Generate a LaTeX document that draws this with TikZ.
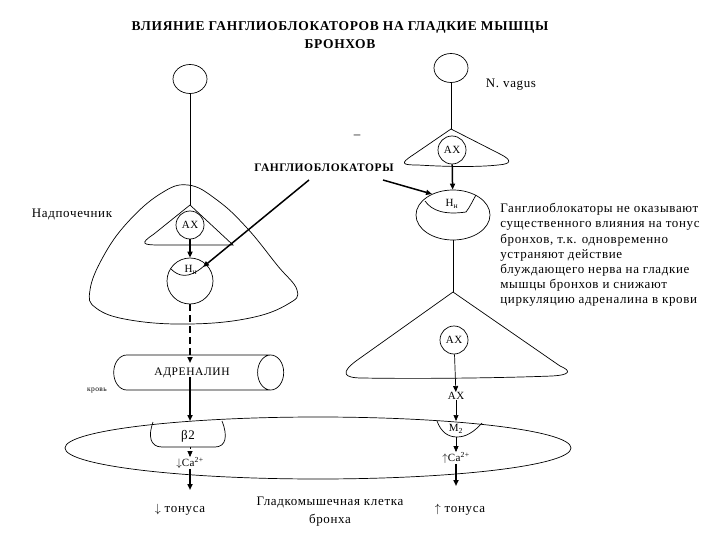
\documentclass[tikz,border=0pt]{standalone}
\usepackage{fontspec}
\setmainfont{Liberation Serif}[LetterSpace=5]
\usetikzlibrary{arrows.meta,shapes.geometric}
\tikzset{
  soma/.style={draw,ellipse,minimum width=34pt,minimum height=29pt,inner sep=0pt},
  mediator/.style={draw,circle,minimum size=28pt,inner sep=0pt,font=\fontsize{11}{13}\selectfont},
  synapse/.style={draw,circle,minimum size=46pt,inner sep=0pt},
  thin arrow/.style={-{Triangle[length=6pt,width=5pt]}},
  thick arrow/.style={line width=1.5pt,-{Triangle[length=6pt,width=5pt]}},
  txt/.style={inner sep=0pt,font=\fontsize{13}{15}\selectfont},
  small txt/.style={inner sep=0pt,font=\fontsize{11}{13}\selectfont},
}
\begin{document}
\begin{tikzpicture}[x=1pt,y=-1pt,line width=0.7pt]
  \useasboundingbox (0,0) rectangle (720,540);
  % Заголовок
  \node[txt,font=\bfseries\fontsize{13.5}{16}\selectfont] (title) at (340,27) {ВЛИЯНИЕ ГАНГЛИОБЛОКАТОРОВ НА ГЛАДКИЕ МЫШЦЫ};
  \node[txt,font=\bfseries\fontsize{13.5}{16}\selectfont] (title2) at (340,44) {БРОНХОВ};
  % Надпочечник
  \node[soma] (somaL) at (190,79) {};
  \coordinate (forkL) at (190,205);
  \draw (somaL) -- (forkL);
  \draw plot[smooth cycle,tension=0.7] coordinates {(188,185) (217,200) (247,228) (277,265) (297,290) (288,304) (250,318) (190,324) (130,320) (96,308) (90,290) (103,257) (127,223) (160,194)};
  \draw (forkL) -- (154,234) .. controls (139,244) and (143,245) .. (160,245) -- (233,245) -- cycle;
  \node[mediator] (axL) at (190,225) {АХ};
  \node[synapse] (hnL) at (190,281) {};
  \draw (171,269) .. controls (178,276) and (188,280) .. (204,266);
  \node[small txt] (hnLlbl) at (191,270) {Н\textsubscript{н}};
  \draw[thick arrow] (axL) -- (hnL);
  \node[txt] (adrenal) at (72,215) {Надпочечник};
  % Блуждающий нерв
  \node[soma] (somaR) at (451,68) {};
  \node[txt] (vagus) at (511,85) {N. vagus};
  \coordinate (forkR) at (451,129);
  \draw (somaR) -- (forkR);
  \draw (forkR) -- (413,155) .. controls (399,164) and (403,165) .. (418,165) .. controls (450,167) and (480,167) .. (498,165) .. controls (512,164) and (512,160) .. (500,154) -- cycle;
  \node[mediator] (axR) at (452,150) {АХ};
  \node[txt] (minus) at (357,137) {–};
  \node[draw,ellipse,minimum width=74pt,minimum height=50pt,inner sep=0pt] (hnR) at (453,215) {};
  \draw (425,201) .. controls (432,211) and (445,215) .. (466,212) .. controls (470,207) and (473,200) .. (476,195);
  \node[small txt] (hnRlbl) at (452,204) {Н\textsubscript{н}};
  \draw[thick arrow] (axR) -- (hnR);
  \coordinate (forkR2) at (453,292);
  \draw (hnR) -- (forkR2);
  \draw (forkR2) -- (356,361) .. controls (340,373) and (344,378) .. (362,378) .. controls (420,379) and (500,378) .. (552,376) .. controls (570,375) and (572,371) .. (560,366) -- cycle;
  \node[mediator] (axR2) at (454,340) {АХ};
  % Ганглиоблокаторы
  \node[txt,font=\bfseries\fontsize{11.5}{14}\selectfont] (gb) at (324,168) {ГАНГЛИОБЛОКАТОРЫ};
  \coordinate (gbL) at (309,180);
  \coordinate (gbR) at (383,180);
  \coordinate (hnLin) at (203,267);
  \draw[thick arrow] (gbL) -- (hnLin);
  \draw[thick arrow] (gbR) -- (hnR.135);
  % Кровь
  \node[draw,cylinder,minimum height=170pt,minimum width=35pt,aspect=2.6,inner sep=0pt,small txt,font=\fontsize{11.5}{13}\selectfont] (adr) at (192,372.5) {АДРЕНАЛИН};
  \node[txt,font=\fontsize{7.5}{8}\selectfont] (blood) at (97,391) {кровь};
  \coordinate (adrIn) at (190,363);
  \coordinate (adrOut) at (190,377);
  \draw[thick arrow,dash pattern=on 7pt off 4pt] (hnL) -- (adrIn);
  % Гладкомышечная клетка
  \node[draw,ellipse,minimum width=506pt,minimum height=62pt,inner sep=0pt] (cell) at (318,448) {};
  \draw (153,422) .. controls (148,436) and (150,447) .. (162,447) -- (215,447) .. controls (226,447) and (228,436) .. (222,421);
  \node[txt] (b2) at (188,436) {β2};
  \coordinate (b2top) at (190,421);
  \coordinate (b2bot) at (190,447);
  \draw[thick arrow] (adrOut) -- (b2top);
  \node[small txt] (caL) at (190,463) {$\downarrow$Ca\textsuperscript{2+}};
  \draw[thin arrow,dash pattern=on 2pt off 1.5pt] (b2bot) -- (caL);
  \coordinate (caLend) at (190,490);
  \draw[thick arrow] (caL) -- (caLend);
  \node[txt] (toneL) at (180,510) {$\downarrow$ тонуса};
  \node[txt,font=\fontsize{13}{18}\selectfont,align=center] (cellLbl) at (330,512) {Гладкомышечная клетка\\бронха};
  \node[small txt] (axOut) at (456,396) {АХ};
  \draw[thin arrow] (axR2) -- (axOut);
  \coordinate (m2top) at (456,421);
  \draw[thin arrow] (axOut) -- (m2top);
  \draw (437,421) .. controls (441,432) and (448,437) .. (457,437) .. controls (466,437) and (474,432) .. (482,423);
  \node[small txt] (m2) at (456,429) {M\textsubscript{2}};
  \coordinate (m2bot) at (456,437);
  \node[small txt] (caR) at (456,458) {$\uparrow$Ca\textsuperscript{2+}};
  \draw[thin arrow] (m2bot) -- (caR);
  \coordinate (caRend) at (456,486);
  \draw[thick arrow] (caR) -- (caRend);
  \node[txt] (toneR) at (460,510) {$\uparrow$ тонуса};
  % Пояснение
  \node[txt,align=left,anchor=north west,font=\fontsize{13}{15.2}\selectfont] (note) at (500,203) {Ганглиоблокаторы не оказывают\\существенного влияния на тонус\\бронхов, т.к. одновременно\\устраняют действие\\блуждающего нерва на гладкие\\мышцы бронхов и снижают\\циркуляцию адреналина в крови};
\end{tikzpicture}
\end{document}
